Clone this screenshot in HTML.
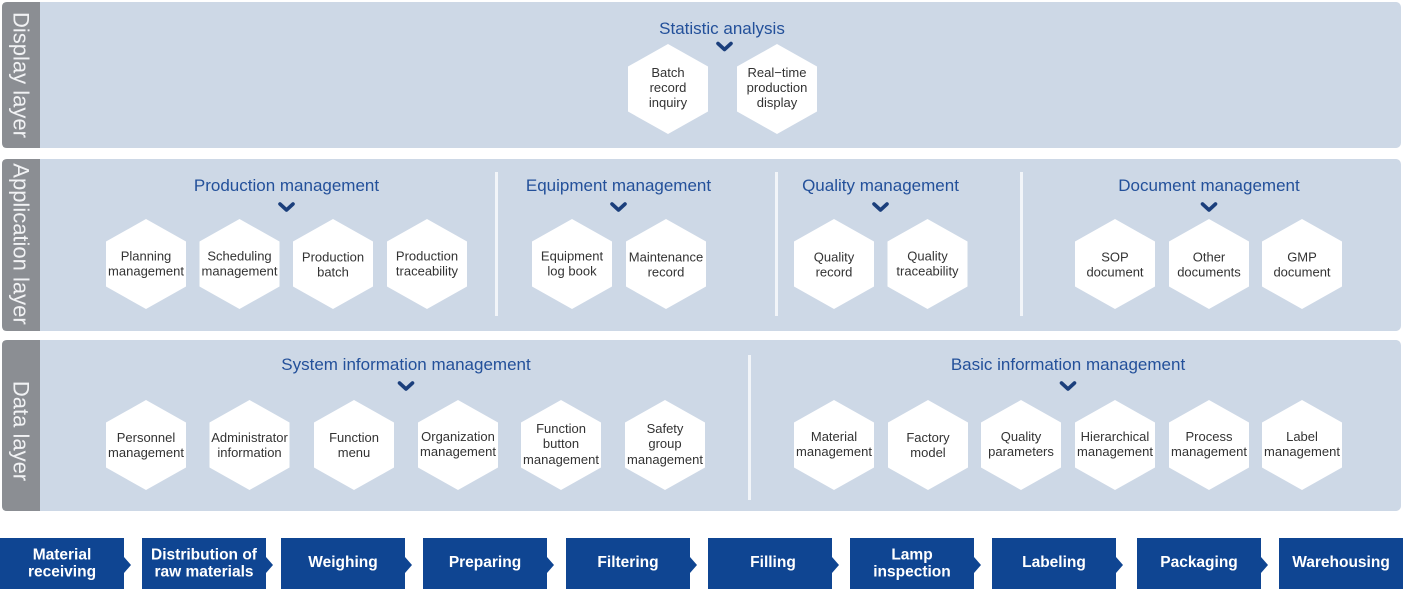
<!DOCTYPE html>
<html>
<head>
<meta charset="utf-8">
<style>
html,body{margin:0;padding:0;background:#fff;}
svg{display:block;}
text{font-family:"Liberation Sans",Arial,sans-serif;}
.t{font-size:17px;fill:#23509a;text-anchor:middle;}
.h{font-size:13px;fill:#333;text-anchor:middle;}
.lbl{font-size:22px;fill:#f1f2f4;text-anchor:middle;dominant-baseline:central;}
.p{font-size:15.5px;fill:#fff;font-weight:bold;text-anchor:middle;}
.chev{fill:none;stroke:#1b3f7c;stroke-width:3.6;stroke-linecap:round;stroke-linejoin:round;}
</style>
</head>
<body>
<svg width="1403" height="589" viewBox="0 0 1403 589" xmlns="http://www.w3.org/2000/svg">
<defs>
<polygon id="hex" points="0,0 40,22.5 40,67.5 0,90 -40,67.5 -40,22.5" fill="#ffffff"/>
</defs>
<!-- panels -->
<rect x="2" y="2" width="1399" height="146" rx="5" fill="#cdd8e6"/>
<rect x="2" y="159" width="1399" height="172" rx="5" fill="#cdd8e6"/>
<rect x="2" y="340" width="1399" height="171" rx="5" fill="#cdd8e6"/>
<!-- label bars -->
<path d="M7,2 H40 V148 H7 Q2,148 2,143 V7 Q2,2 7,2 Z" fill="#8b8e93"/>
<path d="M7,159 H40 V331 H7 Q2,331 2,326 V164 Q2,159 7,159 Z" fill="#8b8e93"/>
<path d="M7,340 H40 V511 H7 Q2,511 2,506 V345 Q2,340 7,340 Z" fill="#8b8e93"/>
<text class="lbl" transform="translate(21,75) rotate(90)">Display layer</text>
<text class="lbl" transform="translate(21,244) rotate(90)">Application layer</text>
<text class="lbl" transform="translate(21,431) rotate(90)">Data layer</text>

<!-- dividers -->
<rect x="495" y="172" width="3" height="144" fill="#f2f5f9"/>
<rect x="775" y="172" width="3" height="144" fill="#f2f5f9"/>
<rect x="1020" y="172" width="3" height="144" fill="#f2f5f9"/>
<rect x="748" y="355" width="3" height="145" fill="#f2f5f9"/>

<!-- Display layer -->
<text class="t" x="722" y="34">Statistic analysis</text>
<polyline class="chev" points="718,43.5 724.5,49.5 731,43.5"/>
<use href="#hex" x="668" y="44"/>
<use href="#hex" x="777" y="44"/>
<text class="h" x="668" y="77">Batch</text>
<text class="h" x="668" y="92">record</text>
<text class="h" x="668" y="107">inquiry</text>
<text class="h" x="777" y="77">Real−time</text>
<text class="h" x="777" y="92">production</text>
<text class="h" x="777" y="107">display</text>

<!-- Application layer -->
<text class="t" x="286.5" y="191">Production management</text>
<polyline class="chev" points="280,204 286.5,210 293,204"/>
<text class="t" x="618.5" y="191">Equipment management</text>
<polyline class="chev" points="612,204 618.5,210 625,204"/>
<text class="t" x="880.5" y="191">Quality management</text>
<polyline class="chev" points="874,204 880.5,210 887,204"/>
<text class="t" x="1209" y="191">Document management</text>
<polyline class="chev" points="1202.5,204 1209,210 1215.5,204"/>

<use href="#hex" x="146" y="219"/>
<use href="#hex" x="239.5" y="219"/>
<use href="#hex" x="333" y="219"/>
<use href="#hex" x="427" y="219"/>
<use href="#hex" x="572" y="219"/>
<use href="#hex" x="666" y="219"/>
<use href="#hex" x="834" y="219"/>
<use href="#hex" x="927.5" y="219"/>
<use href="#hex" x="1115" y="219"/>
<use href="#hex" x="1209" y="219"/>
<use href="#hex" x="1302" y="219"/>

<text class="h" x="146" y="260.5">Planning</text>
<text class="h" x="146" y="275.5">management</text>
<text class="h" x="239.5" y="260.5">Scheduling</text>
<text class="h" x="239.5" y="275.5">management</text>
<text class="h" x="333" y="261.5">Production</text>
<text class="h" x="333" y="276.5">batch</text>
<text class="h" x="427" y="260.5">Production</text>
<text class="h" x="427" y="275.5">traceability</text>
<text class="h" x="572" y="260.5">Equipment</text>
<text class="h" x="572" y="275.5">log book</text>
<text class="h" x="666" y="261.5">Maintenance</text>
<text class="h" x="666" y="276.5">record</text>
<text class="h" x="834" y="261.5">Quality</text>
<text class="h" x="834" y="276.5">record</text>
<text class="h" x="927.5" y="260.5">Quality</text>
<text class="h" x="927.5" y="275.5">traceability</text>
<text class="h" x="1115" y="261.5">SOP</text>
<text class="h" x="1115" y="276.5">document</text>
<text class="h" x="1209" y="261.5">Other</text>
<text class="h" x="1209" y="276.5">documents</text>
<text class="h" x="1302" y="261.5">GMP</text>
<text class="h" x="1302" y="276.5">document</text>

<!-- Data layer -->
<text class="t" x="406" y="370">System information management</text>
<polyline class="chev" points="399.5,383 406,389 412.5,383"/>
<text class="t" x="1068" y="370">Basic information management</text>
<polyline class="chev" points="1061.5,383 1068,389 1074.5,383"/>

<use href="#hex" x="146" y="400"/>
<use href="#hex" x="249.5" y="400"/>
<use href="#hex" x="354" y="400"/>
<use href="#hex" x="458" y="400"/>
<use href="#hex" x="561" y="400"/>
<use href="#hex" x="665" y="400"/>
<use href="#hex" x="834" y="400"/>
<use href="#hex" x="928" y="400"/>
<use href="#hex" x="1021" y="400"/>
<use href="#hex" x="1115" y="400"/>
<use href="#hex" x="1209" y="400"/>
<use href="#hex" x="1302" y="400"/>

<text class="h" x="146" y="442">Personnel</text>
<text class="h" x="146" y="457">management</text>
<text class="h" x="249.5" y="442">Administrator</text>
<text class="h" x="249.5" y="457">information</text>
<text class="h" x="354" y="442">Function</text>
<text class="h" x="354" y="457">menu</text>
<text class="h" x="458" y="441">Organization</text>
<text class="h" x="458" y="456">management</text>
<text class="h" x="561" y="433">Function</text>
<text class="h" x="561" y="448">button</text>
<text class="h" x="561" y="464">management</text>
<text class="h" x="665" y="433">Safety</text>
<text class="h" x="665" y="448">group</text>
<text class="h" x="665" y="464">management</text>

<text class="h" x="834" y="441">Material</text>
<text class="h" x="834" y="456">management</text>
<text class="h" x="928" y="442">Factory</text>
<text class="h" x="928" y="457">model</text>
<text class="h" x="1021" y="441">Quality</text>
<text class="h" x="1021" y="456">parameters</text>
<text class="h" x="1115" y="441">Hierarchical</text>
<text class="h" x="1115" y="456">management</text>
<text class="h" x="1209" y="441">Process</text>
<text class="h" x="1209" y="456">management</text>
<text class="h" x="1302" y="441">Label</text>
<text class="h" x="1302" y="456">management</text>

<!-- Process flow -->
<g fill="#0f4592">
<path d="M0,538 H124 V557 L131,565 L124,573 V589 H0 Z"/>
<path d="M142,538 H266 V557 L273,565 L266,573 V589 H142 Z"/>
<path d="M281,538 H405 V557 L412,565 L405,573 V589 H281 Z"/>
<path d="M423,538 H547 V557 L554,565 L547,573 V589 H423 Z"/>
<path d="M566,538 H690 V557 L697,565 L690,573 V589 H566 Z"/>
<path d="M708,538 H832 V557 L839,565 L832,573 V589 H708 Z"/>
<path d="M850,538 H974 V557 L981,565 L974,573 V589 H850 Z"/>
<path d="M992,538 H1116 V557 L1123,565 L1116,573 V589 H992 Z"/>
<path d="M1137,538 H1261 V557 L1268,565 L1261,573 V589 H1137 Z"/>
<rect x="1279" y="538" width="124" height="51"/>
</g>
<text class="p" x="62" y="559.5">Material</text>
<text class="p" x="62" y="576.5">receiving</text>
<text class="p" x="204" y="559.5">Distribution of</text>
<text class="p" x="204" y="576.5">raw materials</text>
<text class="p" x="343" y="567">Weighing</text>
<text class="p" x="485" y="567">Preparing</text>
<text class="p" x="628" y="567">Filtering</text>
<text class="p" x="773" y="567">Filling</text>
<text class="p" x="912" y="559.5">Lamp</text>
<text class="p" x="912" y="576.5">inspection</text>
<text class="p" x="1054" y="567">Labeling</text>
<text class="p" x="1199" y="567">Packaging</text>
<text class="p" x="1341" y="567">Warehousing</text>
</svg>
</body>
</html>
